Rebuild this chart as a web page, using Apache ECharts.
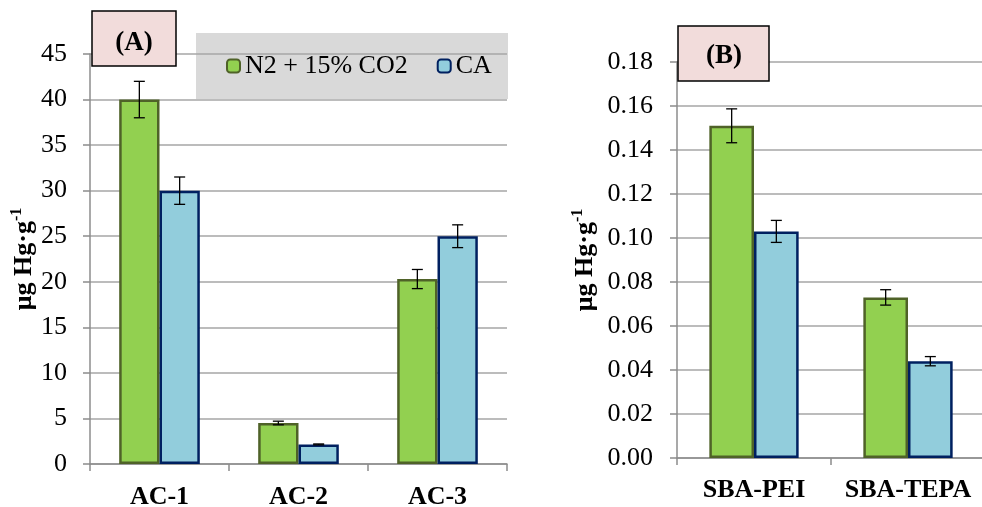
<!DOCTYPE html>
<html>
<head>
<meta charset="utf-8">
<script src="https://cdn.jsdelivr.net/npm/echarts@6/dist/echarts.min.js"></script>
<style>
  html, body { margin: 0; padding: 0; background: #fff; }
  #main { width: 982px; height: 507px; }
</style>
</head>
<body>
<div id="main"></div>
<script>
// data
var categoriesA = ['AC-1', 'AC-2', 'AC-3'];
var n2A = [40.0, 4.5, 20.3];
var n2ErrA = [2.0, 0.2, 1.05];
var caA = [30.0, 2.15, 25.0];
var caErrA = [1.5, 0.05, 1.25];

var categoriesB = ['SBA-PEI', 'SBA-TEPA'];
var n2B = [0.151, 0.073];
var n2ErrB = [0.0077, 0.0035];
var caB = [0.103, 0.044];
var caErrB = [0.005, 0.0021];

var ticksA = { min: 0, max: 45, interval: 5 };
var ticksB = { min: 0, max: 0.18, interval: 0.02 };

var FONT = 'Liberation Serif';
var GAP = 0.42;
var greenFill = '#92d050', greenLine = '#4f6228';
var blueFill = '#92cddc', blueLine = '#002060';

function errData(vals, errs) {
    return vals.map(function (v, i) { return [i, v, errs[i]]; });
}

function errSeries(name, xi, vals, errs, off) {
    return {
        name: name + '_err',
        type: 'custom',
        xAxisIndex: xi,
        yAxisIndex: xi,
        z: 10,
        silent: true,
        data: errData(vals, errs),
        renderItem: function (params, api) {
            var i = api.value(0), v = api.value(1), e = api.value(2);
            var band = api.size([1, 0])[0];
            var bw = band * (1 - GAP) / 2;
            var cx = api.coord([i, v])[0] + off * bw;
            var top = api.coord([i, v + e])[1];
            var bot = api.coord([i, v - e])[1];
            var st = { stroke: '#000', lineWidth: 1.3 };
            return {
                type: 'group',
                children: [
                    { type: 'line', shape: { x1: cx, y1: top, x2: cx, y2: bot }, style: st },
                    { type: 'line', shape: { x1: cx - 5.5, y1: top, x2: cx + 5.5, y2: top }, style: st },
                    { type: 'line', shape: { x1: cx - 5.5, y1: bot, x2: cx + 5.5, y2: bot }, style: st }
                ]
            };
        }
    };
}

function barSeries(name, xi, vals, fill, line) {
    return {
        name: name,
        type: 'bar',
        xAxisIndex: xi,
        yAxisIndex: xi,
        barGap: '0%',
        barCategoryGap: (GAP * 100) + '%',
        itemStyle: { color: fill, borderColor: line, borderWidth: 2.5 },
        data: vals
    };
}

function yAxis(gi, t, margin, gap, fmt) {
    return {
        type: 'value',
        gridIndex: gi,
        min: t.min, max: t.max, interval: t.interval,
        name: '{a|μg Hg·g}{s|-1}',
        nameLocation: 'middle',
        nameRotate: 90,
        nameGap: gap,
        nameTextStyle: {
            rich: {
                a: { fontFamily: FONT, fontWeight: 'bold', fontSize: 26, color: '#000' },
                s: { fontFamily: FONT, fontWeight: 'bold', fontSize: 16, color: '#000', padding: [0, 0, 14, 0] }
            }
        },
        axisLine: { show: true, lineStyle: { color: '#8c8c8c', width: 1.5 } },
        axisTick: { show: true, length: 7, lineStyle: { color: '#8c8c8c', width: 1.5 } },
        splitLine: { show: true, lineStyle: { color: '#a6a6a6', width: 1.5 } },
        axisLabel: {
            margin: margin,
            fontFamily: FONT, fontSize: 26, color: '#000',
            formatter: fmt
        }
    };
}

function xAxis(gi, cats, margin) {
    return {
        type: 'category',
        gridIndex: gi,
        data: cats,
        axisLine: { lineStyle: { color: '#8c8c8c', width: 1.5 } },
        axisTick: { show: true, length: 7, lineStyle: { color: '#8c8c8c', width: 1.5 } },
        axisLabel: {
            interval: 0,
            hideOverlap: false,
            margin: margin,
            fontFamily: FONT, fontWeight: 'bold', fontSize: 26, color: '#000'
        }
    };
}

var myChart = echarts.init(document.getElementById('main'));

var option = {
    backgroundColor: '#fff',
    animation: false,
    grid: [
        { left: 90, top: 54, right: 475, bottom: 43, containLabel: false, outerBoundsMode: 'none' },
        { left: 677, top: 62, right: -3, bottom: 49, containLabel: false, outerBoundsMode: 'none' }
    ],
    xAxis: [xAxis(0, categoriesA, 20), xAxis(1, categoriesB, 19)],
    yAxis: [
        yAxis(0, ticksA, 23, 50, function (v) { return String(v); }),
        yAxis(1, ticksB, 24, 77, function (v) { return v.toFixed(2); })
    ],
    legend: {
        left: 221,
        top: 48,
        itemWidth: 13,
        itemHeight: 13,
        itemGap: 29,
        textStyle: { fontFamily: FONT, fontSize: 26, color: '#000' },
        data: ['N2 + 15% CO2', 'CA']
    },
    graphic: [
        { type: 'rect', shape: { x: 196, y: 33, width: 312, height: 66 }, style: { fill: '#d9d9d9' }, z: 0 },
        { type: 'rect', shape: { x: 92, y: 11, width: 84, height: 55 }, style: { fill: '#f2dcdb', stroke: '#000', lineWidth: 1.5 }, z: 100 },
        { type: 'text', x: 134, y: 43, style: { text: '(A)', fontFamily: FONT, fontWeight: 'bold', fontSize: 27, fill: '#000', align: 'center', verticalAlign: 'middle' }, z: 101 },
        { type: 'rect', shape: { x: 678, y: 26, width: 91, height: 55 }, style: { fill: '#f2dcdb', stroke: '#000', lineWidth: 1.5 }, z: 100 },
        { type: 'text', x: 724, y: 56, style: { text: '(B)', fontFamily: FONT, fontWeight: 'bold', fontSize: 27, fill: '#000', align: 'center', verticalAlign: 'middle' }, z: 101 }
    ],
    series: [
        barSeries('N2 + 15% CO2', 0, n2A, greenFill, greenLine),
        barSeries('CA', 0, caA, blueFill, blueLine),
        barSeries('N2 + 15% CO2', 1, n2B, greenFill, greenLine),
        barSeries('CA', 1, caB, blueFill, blueLine),
        errSeries('n2A', 0, n2A, n2ErrA, -0.5),
        errSeries('caA', 0, caA, caErrA, 0.5),
        errSeries('n2B', 1, n2B, n2ErrB, -0.5),
        errSeries('caB', 1, caB, caErrB, 0.5)
    ]
};

myChart.setOption(option);
</script>
</body>
</html>
